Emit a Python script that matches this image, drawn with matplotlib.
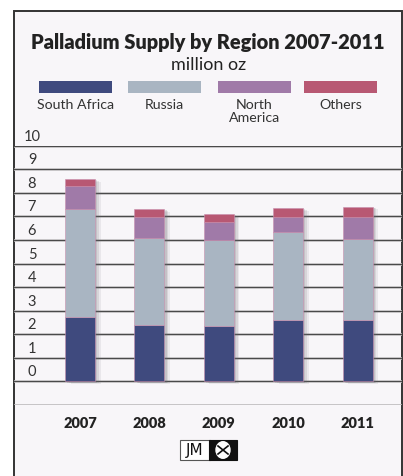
#!/usr/bin/env python3
"""Palladium supply by region, 2007-2011, stacked bars."""

import matplotlib.pyplot as plt
from matplotlib.patches import Rectangle, Circle

years = ["2007", "2008", "2009", "2010", "2011"]
regions = ["South Africa", "Russia", "North\nAmerica", "Others"]
south_africa = [2.74, 2.41, 2.35, 2.62, 2.60]
russia = [4.57, 3.66, 3.65, 3.73, 3.44]
north_america = [0.99, 0.92, 0.75, 0.62, 0.95]
others = [0.28, 0.32, 0.34, 0.38, 0.43]
y_ticks = list(range(0, 11))

COLORS = ["#3f4a7e", "#a9b5c2", "#a07aa8", "#b85873"]
BG = "#f8f6f9"
W, H = 403, 476

plt.rcParams["font.family"] = ["Lato", "DejaVu Sans"]

fig = plt.figure(figsize=(W / 100, H / 100), dpi=100)
fig.patch.set_facecolor("white")


def fx(px):
    return px / W


def fy(py):
    return 1 - py / H


# panel background and frame
fig.patches.append(Rectangle((fx(14), -0.01), fx(388), fy(11) + 0.01,
                             transform=fig.transFigure, facecolor=BG,
                             edgecolor="#333333", lw=1.4, zorder=-1))

ax = fig.add_axes([fx(14), fy(405), fx(388), (405 - 145.7) / H])
ax.set_zorder(1)
ax.set_facecolor("none")
ax.set_ylim(-1, 10)
ax.set_xlim(-66 / 69.4, (388 - 66) / 69.4)
for s in ax.spines.values():
    s.set_visible(False)
ax.set_xticks([])
ax.set_yticks([])

for v in range(-1, 11):
    ax.axhline(v, color="#cfcdd1", lw=1.8, zorder=1)
    ax.axhline(v, color="#4a4a4a", lw=0.9, zorder=1)

x = list(range(len(years)))
width = 30 / 69.4
series = [south_africa, russia, north_america, others]
totals = [sum(t) for t in zip(*series)]

# soft drop shadow
for k, a in [(0.10, 0.10), (0.07, 0.14), (0.04, 0.18)]:
    ax.bar([xi + k * 0.8 for xi in x], totals, width=width, bottom=-k * 1.2,
           color="#6e6a72", alpha=a, zorder=2, lw=0)

bottom = [0.0] * len(years)
for vals, col in zip(series, COLORS):
    ax.bar(x, vals, width=width, bottom=bottom, color=col, zorder=3,
           edgecolor="#c98fae", lw=0.4)
    bottom = [b + v for b, v in zip(bottom, vals)]

ytr = ax.get_yaxis_transform()
for v in y_ticks:
    ax.text(18 / 388, v + 0.38, str(v), transform=ytr,
            ha="center", va="center", fontsize=10.5, color="#333333")

for xi, yr in zip(x, years):
    ax.text(xi, -1.8, yr, ha="center", va="center", fontsize=10.5,
            fontweight="heavy", color="#222222", clip_on=False)

# titles
fig.text(fx(208), fy(42), "Palladium Supply by Region 2007-2011",
         ha="center", va="center", fontsize=14.4, fontweight="heavy", color="#222222")
fig.text(fx(209), fy(65), "million oz", ha="center", va="center",
         fontsize=13, color="#222222")

# legend
leg_x = [39, 128, 218, 304]
for lx, col, name in zip(leg_x, COLORS, regions):
    fig.patches.append(Rectangle((fx(lx), fy(93)), fx(73), 12 / H,
                                 transform=fig.transFigure, facecolor=col,
                                 edgecolor="none", zorder=2))
    fig.text(fx(lx + 36.5), fy(99), name, ha="center", va="top",
             fontsize=10.2, color="#333333", linespacing=1.05)

# JM logo
fig.patches.append(Rectangle((fx(180), fy(460)), fx(30), 20 / H,
                             transform=fig.transFigure, facecolor="white",
                             edgecolor="#555555", lw=0.8, zorder=2))
fig.patches.append(Rectangle((fx(209), fy(460)), fx(28), 20 / H,
                             transform=fig.transFigure, facecolor="#111111",
                             edgecolor="#111111", lw=0.8, zorder=2))
fig.text(fx(195), fy(450), "JM", ha="center", va="center", fontsize=11,
         color="#111111", family="DejaVu Sans")
fig.patches.append(Circle((fx(223), fy(450)), 7 / W, transform=fig.transFigure,
                          facecolor="white", edgecolor="white", zorder=3))
fig.lines.append(plt.Line2D([fx(218), fx(228)], [fy(446), fy(454)],
                            transform=fig.transFigure, color="#111111", lw=1.2, zorder=4))
fig.lines.append(plt.Line2D([fx(218), fx(228)], [fy(454), fy(446)],
                            transform=fig.transFigure, color="#111111", lw=1.2, zorder=4))

fig.savefig("out.png", dpi=100, facecolor="white")
